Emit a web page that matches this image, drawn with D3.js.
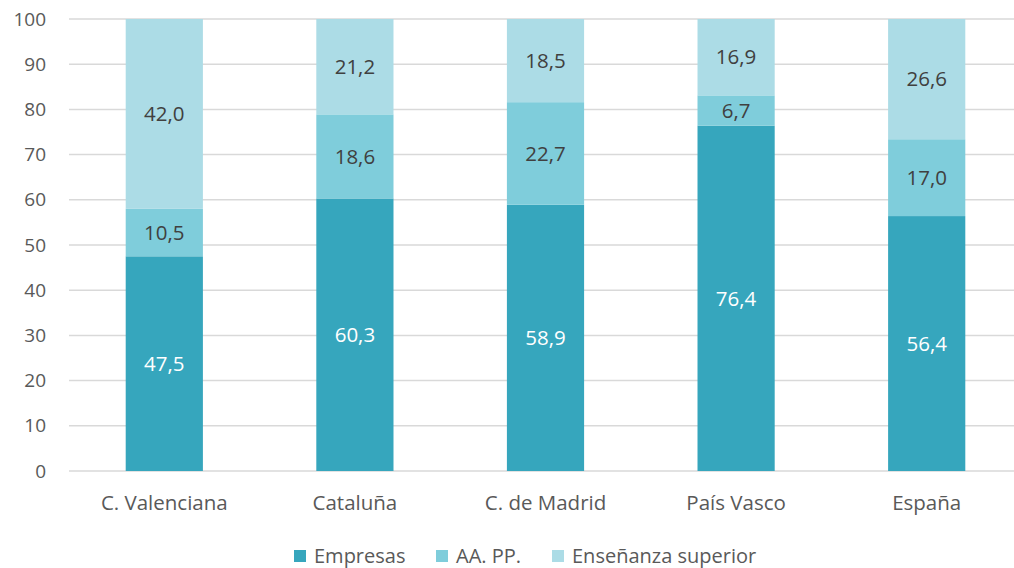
<!DOCTYPE html>
<html>
<head>
<meta charset="utf-8">
<script src="https://cdn.jsdelivr.net/npm/d3@7"></script>
<style>
  body { margin: 0; background: #fff; }
  svg { display: block; font-family: "Open Sans", sans-serif; }
</style>
</head>
<body>
<div id="main"></div>
<script>
// data
var categories = ["C. Valenciana", "Cataluña", "C. de Madrid", "País Vasco", "España"];
var seriesNames = ["Empresas", "AA. PP.", "Enseñanza superior"];
var empresas = [47.5, 60.3, 58.9, 76.4, 56.4];
var aapp = [10.5, 18.6, 22.7, 6.7, 17.0];
var ensenanza = [42.0, 21.2, 18.5, 16.9, 26.6];
var yTicks = [0, 10, 20, 30, 40, 50, 60, 70, 80, 90, 100];

var colors = ["#36a6bd", "#7fcddb", "#acdce6"];
var labelColors = ["#ffffff", "#404040", "#404040"];

var W = 1014, H = 568;
var svg = d3.select("#main").append("svg")
  .attr("width", W)
  .attr("height", H);

var x = d3.scaleBand()
  .domain(categories)
  .range([69, 1022])
  .paddingInner(0.595)
  .paddingOuter(0.2975);

var y = d3.scaleLinear()
  .domain([0, 100])
  .range([471, 19]);

// gridlines
svg.append("g")
  .selectAll("line")
  .data(yTicks)
  .enter()
  .append("line")
  .attr("x1", 69)
  .attr("x2", W)
  .attr("y1", function (d) { return y(d); })
  .attr("y2", function (d) { return y(d); })
  .attr("stroke", "#d9d9d9")
  .attr("stroke-width", 1.5);

// y tick labels
svg.append("g")
  .selectAll("text")
  .data(yTicks)
  .enter()
  .append("text")
  .attr("x", 46)
  .attr("y", function (d) { return y(d); })
  .attr("dy", "0.35em")
  .attr("text-anchor", "end")
  .attr("fill", "#595959")
  .style("font-size", "19px")
  .text(function (d) { return d; });

// stacked data
var table = categories.map(function (c, i) {
  return { cat: c, s0: empresas[i], s1: aapp[i], s2: ensenanza[i] };
});
var stack = d3.stack().keys(["s0", "s1", "s2"])(table);

var fmt = function (v) { return d3.format(".1f")(v).replace(".", ","); };

stack.forEach(function (layer, k) {
  var g = svg.append("g");
  g.selectAll("rect")
    .data(layer)
    .enter()
    .append("rect")
    .attr("x", function (d) { return x(d.data.cat); })
    .attr("width", x.bandwidth())
    .attr("y", function (d) { return y(Math.min(d[1], 100)); })
    .attr("height", function (d) { return y(d[0]) - y(Math.min(d[1], 100)); })
    .attr("fill", colors[k]);
  g.selectAll("text")
    .data(layer)
    .enter()
    .append("text")
    .attr("x", function (d) { return x(d.data.cat) + x.bandwidth() / 2; })
    .attr("y", function (d) { return y((d[0] + Math.min(d[1], 100)) / 2); })
    .attr("dy", "0.35em")
    .attr("text-anchor", "middle")
    .attr("fill", labelColors[k])
    .style("font-size", "20.5px")
    .text(function (d) { return fmt(d[1] - d[0]); });
});

// category labels
svg.append("g")
  .selectAll("text")
  .data(categories)
  .enter()
  .append("text")
  .attr("x", function (d) { return x(d) + x.bandwidth() / 2; })
  .attr("y", 503)
  .attr("dy", "0.35em")
  .attr("text-anchor", "middle")
  .attr("fill", "#595959")
  .style("font-size", "20.5px")
  .text(function (d) { return d; });

// legend
var legendX = [294, 436, 552];
var legend = svg.append("g");
seriesNames.forEach(function (name, i) {
  legend.append("rect")
    .attr("x", legendX[i])
    .attr("y", 550)
    .attr("width", 12)
    .attr("height", 12)
    .attr("fill", colors[i]);
  legend.append("text")
    .attr("x", legendX[i] + 20)
    .attr("y", 556)
    .attr("dy", "0.35em")
    .attr("fill", "#595959")
    .style("font-size", "20px")
    .text(name);
});
</script>
</body>
</html>
